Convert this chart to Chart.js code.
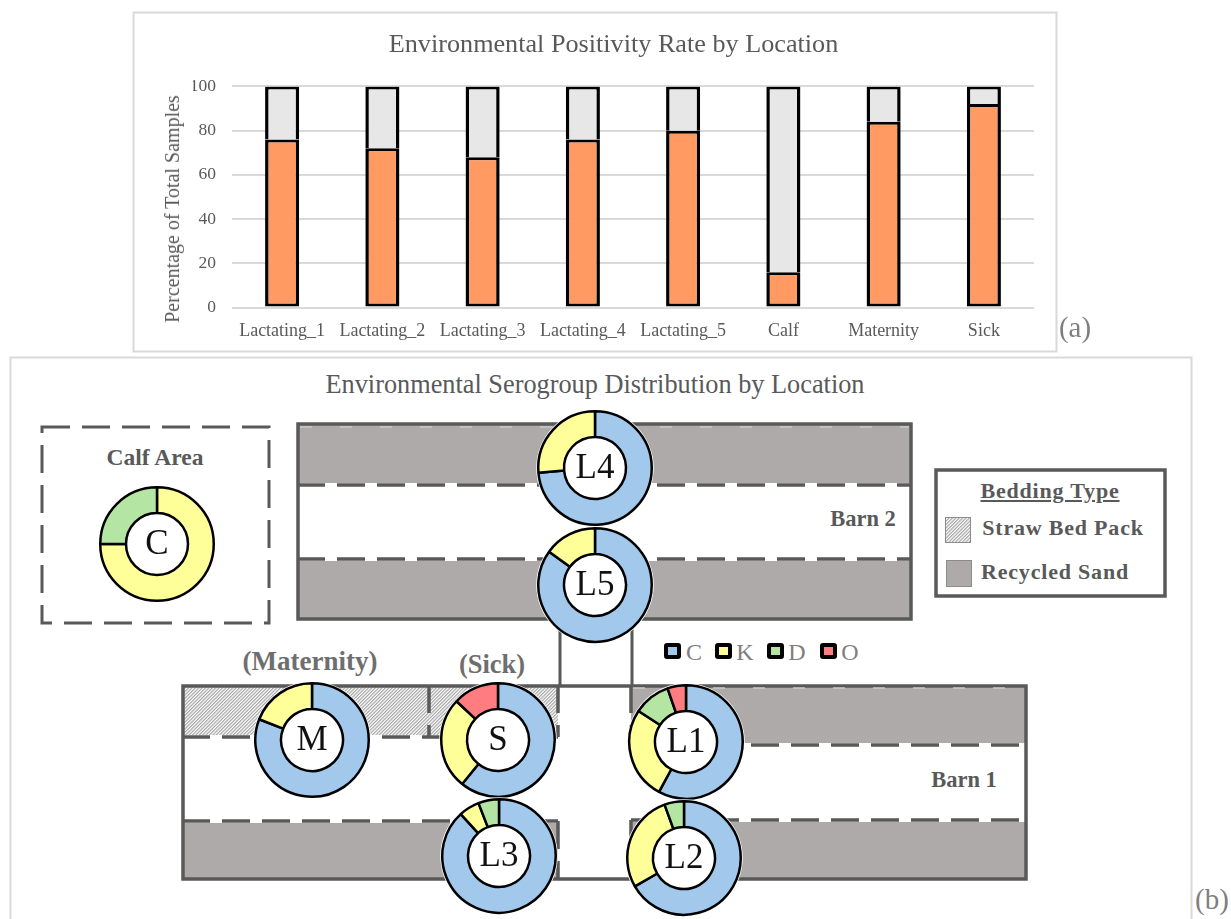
<!DOCTYPE html>
<html>
<head>
<meta charset="utf-8">
<title>Environmental Positivity and Serogroups</title>
<script src="https://cdn.jsdelivr.net/npm/chart.js@4"></script>
<style>
  html, body { margin: 0; padding: 0; background: #fff; overflow: hidden; }
  body { position: relative; width: 1231px; height: 919px; font-family: "Liberation Serif", serif; color: #595959; }
  #plan { position: absolute; left: 0; top: 0; }
  canvas { position: absolute; }
  .txt { position: absolute; white-space: nowrap; transform: translate(-50%, -50%); line-height: 1; }
  .bold { font-weight: bold; }
  .tag { font-size: 29px; color: #7f7f7f; }
  .bed { font-size: 22px; letter-spacing: 0.8px; }
  .swatch { position: absolute; width: 9px; height: 8px; border: 4px solid #000; border-radius: 3px; }
  .groupName { font-size: 24px; color: #7f7f7f; }
</style>
</head>
<body>

<svg id="plan" width="1231" height="919" xmlns="http://www.w3.org/2000/svg">
  <defs>
    <pattern id="straw" width="2.4" height="2.4" patternUnits="userSpaceOnUse" patternTransform="rotate(45)">
      <rect width="2.4" height="2.4" fill="#fff"/>
      <rect width="1.2" height="2.4" fill="#a6a6a6"/>
    </pattern>
  </defs>

  <!-- panel frames -->
  <rect x="133.5" y="12.5" width="923" height="339" fill="none" stroke="#d9d9d9" stroke-width="2"/>
  <rect x="10.5" y="357.5" width="1181" height="580" fill="none" stroke="#d9d9d9" stroke-width="2"/>

  <!-- calf area -->
  <rect x="42" y="427" width="227" height="196" fill="none" stroke="#595959" stroke-width="3" stroke-dasharray="28 12"/>

  <!-- barn 2 -->
  <rect x="297" y="424" width="615" height="61" fill="#aeaaaa"/>
  <rect x="297" y="559" width="615" height="60" fill="#aeaaaa"/>
  <path d="M297 485H912M297 559H912" stroke="#fff" stroke-width="4"/>
  <path d="M297 485H912M297 559H912" stroke="#595959" stroke-width="3.5" stroke-dasharray="28 12"/>
  <rect x="298" y="424" width="613" height="195" fill="none" stroke="#595959" stroke-width="3.5"/>
  <path d="M300 427H909" stroke="#c9c7c7" stroke-width="1.5" stroke-dasharray="12 28"/>

  <!-- corridor -->
  <path d="M560 620V686M632 620V686" stroke="#595959" stroke-width="3" fill="none"/>

  <!-- barn 1 -->
  <rect x="182" y="685" width="376" height="52" fill="url(#straw)"/>
  <rect x="182" y="821" width="376" height="58" fill="#aeaaaa"/>
  <rect x="631" y="685" width="395" height="60" fill="#aeaaaa"/>
  <rect x="631" y="820" width="395" height="59" fill="#aeaaaa"/>
  <path d="M182 737H558M182 821H558M631 745H1026M631 820H1026" stroke="#fff" stroke-width="4"/>
  <path d="M182 737H558M182 821H558M631 745H1026M631 820H1026M429 685V737M558 685V737M558 821V879M631 685V745M631 820V879"
        stroke="#595959" stroke-width="3.5" stroke-dasharray="28 12" fill="none"/>
  <rect x="183" y="686" width="843" height="193" fill="none" stroke="#595959" stroke-width="3.5"/>
  <path d="M633 688H1024" stroke="#c9c7c7" stroke-width="1.5" stroke-dasharray="12 28"/>

  <!-- bedding legend -->
  <rect x="936" y="470" width="229" height="126" fill="#fff" stroke="#595959" stroke-width="3.5"/>
  <rect x="945.5" y="517.5" width="25" height="25" fill="url(#straw)" stroke="#8c8c8c"/>
  <rect x="946.5" y="560.5" width="25" height="26" fill="#aeaaaa" stroke="#8c8c8c"/>
</svg>

<canvas id="rateChart" style="left:133px;top:12px" width="960" height="339"></canvas>

<div class="txt" style="left:172px;top:209px;font-size:20px;transform:translate(-50%,-50%) rotate(-90deg)">Percentage of Total Samples</div>
<div class="txt tag" style="left:1075px;top:327px">(a)</div>
<div class="txt tag" style="left:1212px;top:899px">(b)</div>
<div class="txt" style="left:595px;top:385px;font-size:26.3px">Environmental Serogroup Distribution by Location</div>

<div class="txt bold" style="left:155px;top:458px;font-size:23.5px">Calf Area</div>
<div class="txt bold" style="left:863px;top:519px;font-size:22.5px">Barn 2</div>
<div class="txt bold" style="left:964px;top:780px;font-size:22.5px">Barn 1</div>
<div class="txt bold" style="left:310px;top:661px;font-size:27px;color:#6e6e6e">(Maternity)</div>
<div class="txt bold" style="left:492px;top:664px;font-size:26.5px;color:#6e6e6e">(Sick)</div>

<div class="txt bold bed" style="left:1050px;top:491px;text-decoration:underline">Bedding Type</div>
<div class="txt bold bed" style="left:1063px;top:528px">Straw Bed Pack</div>
<div class="txt bold bed" style="left:1055px;top:572px">Recycled Sand</div>

<div id="groupLegend"></div>

<script>
const locations = ['Lactating_1', 'Lactating_2', 'Lactating_3', 'Lactating_4', 'Lactating_5', 'Calf', 'Maternity', 'Sick'];
const positive  = [76, 72, 68, 76, 80, 16, 84, 92];
const negative  = [24, 28, 32, 24, 20, 84, 16, 8];

const serogroups = ['C', 'K', 'D', 'O'];
const pens    = ['C', 'M', 'S', 'L1', 'L2', 'L3', 'L4', 'L5'];
const groupC  = [0, 17, 14, 11, 12, 15, 14, 17];
const groupK  = [3, 4, 6, 5, 5, 1, 5, 3];
const groupD  = [1, 0, 0, 2, 1, 1, 0, 0];
const groupO  = [0, 0, 3, 1, 0, 0, 0, 0];

const groupColors = ['#a2c8ec', '#ffff99', '#b4e5a2', '#ff7c80'];
const serif = '"Liberation Serif", serif';
const grey  = '#595959';

// where each pen's ring sits on the floor plan
const penCentres = {
  C: [157, 544], M: [312, 740], S: [498, 740], L1: [686, 742],
  L2: [684, 858], L3: [499, 856], L4: [595, 468], L5: [595, 585]
};

new Chart(document.getElementById('rateChart'), {
  type: 'bar',
  data: {
    labels: locations,
    datasets: [
      {
        data: positive,
        backgroundColor: '#ff9a63',
        borderColor: '#000',
        borderWidth: { left: 3.5, right: 3.5, bottom: 3, top: 3 },
        borderSkipped: false,
        barPercentage: 0.34,
        categoryPercentage: 1
      },
      {
        data: negative,
        backgroundColor: '#e7e7e7',
        borderColor: '#000',
        borderWidth: { left: 3.5, right: 3.5, top: 3, bottom: 0 },
        borderSkipped: false,
        barPercentage: 0.34,
        categoryPercentage: 1
      }
    ]
  },
  options: {
    responsive: false,
    animation: false,
    // left padding keeps the title centred on the canvas, right one ends the plot at the frame
    layout: { padding: { right: 59, left: 60, top: 0, bottom: 0 } },
    plugins: {
      legend: { display: false },
      tooltip: { enabled: false },
      title: {
        display: true,
        text: 'Environmental Positivity Rate by Location',
        color: grey,
        font: { family: serif, size: 26.2, weight: 'normal' },
        padding: { top: 17, bottom: 26 }
      }
    },
    scales: {
      x: {
        stacked: true,
        grid: { display: false },
        border: { display: false },
        ticks: { color: grey, font: { family: serif, size: 18 }, padding: 5, maxRotation: 0, autoSkip: false },
        afterFit: s => { s.height = 43.5; }
      },
      y: {
        stacked: true,
        min: 0,
        max: 100,
        grid: { color: '#d9d9d9', lineWidth: 2, drawTicks: false },
        border: { display: false },
        ticks: { stepSize: 20, color: grey, font: { family: serif, size: 17.5 }, padding: 16 },
        afterFit: s => { s.width = 39; }
      }
    }
  }
});

// white disc behind the ring, so the hole hides the floor plan, and the pen name on top
const penRing = {
  id: 'penRing',
  beforeDatasetsDraw(chart) {
    const arc = chart.getDatasetMeta(0).data[0];
    const ctx = chart.ctx;
    ctx.save();
    ctx.fillStyle = '#fff';
    ctx.beginPath();
    ctx.arc(arc.x, arc.y, arc.outerRadius + 2, 0, Math.PI * 2);
    ctx.fill();
    ctx.restore();
  },
  afterDatasetsDraw(chart) {
    const arc = chart.getDatasetMeta(0).data[0];
    const ctx = chart.ctx;
    ctx.save();
    ctx.fillStyle = '#111';
    ctx.font = '35px ' + serif;
    ctx.textAlign = 'center';
    ctx.textBaseline = 'middle';
    ctx.fillText(chart.options.plugins.penRing.name, arc.x, arc.y + 1);
    ctx.restore();
  }
};

pens.forEach((pen, i) => {
  const canvas = document.createElement('canvas');
  const [cx, cy] = penCentres[pen];
  canvas.width = 122;
  canvas.height = 122;
  canvas.style.left = (cx - 61) + 'px';
  canvas.style.top = (cy - 61) + 'px';
  document.body.appendChild(canvas);

  new Chart(canvas, {
    type: 'doughnut',
    data: {
      labels: serogroups,
      datasets: [{
        data: [groupC[i], groupK[i], groupD[i], groupO[i]],
        backgroundColor: groupColors,
        borderColor: '#000',
        borderWidth: 2.5
      }]
    },
    options: {
      responsive: false,
      animation: false,
      cutout: 31,
      layout: { padding: 3 },
      plugins: {
        legend: { display: false },
        tooltip: { enabled: false },
        penRing: { name: pen }
      }
    },
    plugins: [penRing]
  });
});

// serogroup key between the barns
const keyLeft = [664, 715, 767, 820];
const legendBox = document.getElementById('groupLegend');
serogroups.forEach((g, i) => {
  const sw = document.createElement('div');
  sw.className = 'swatch';
  sw.style.left = keyLeft[i] + 'px';
  sw.style.top = '643px';
  sw.style.background = groupColors[i];
  legendBox.appendChild(sw);

  const t = document.createElement('div');
  t.className = 'txt groupName';
  t.style.left = (keyLeft[i] + 30) + 'px';
  t.style.top = '652px';
  t.textContent = g;
  legendBox.appendChild(t);
});
</script>
</body>
</html>
